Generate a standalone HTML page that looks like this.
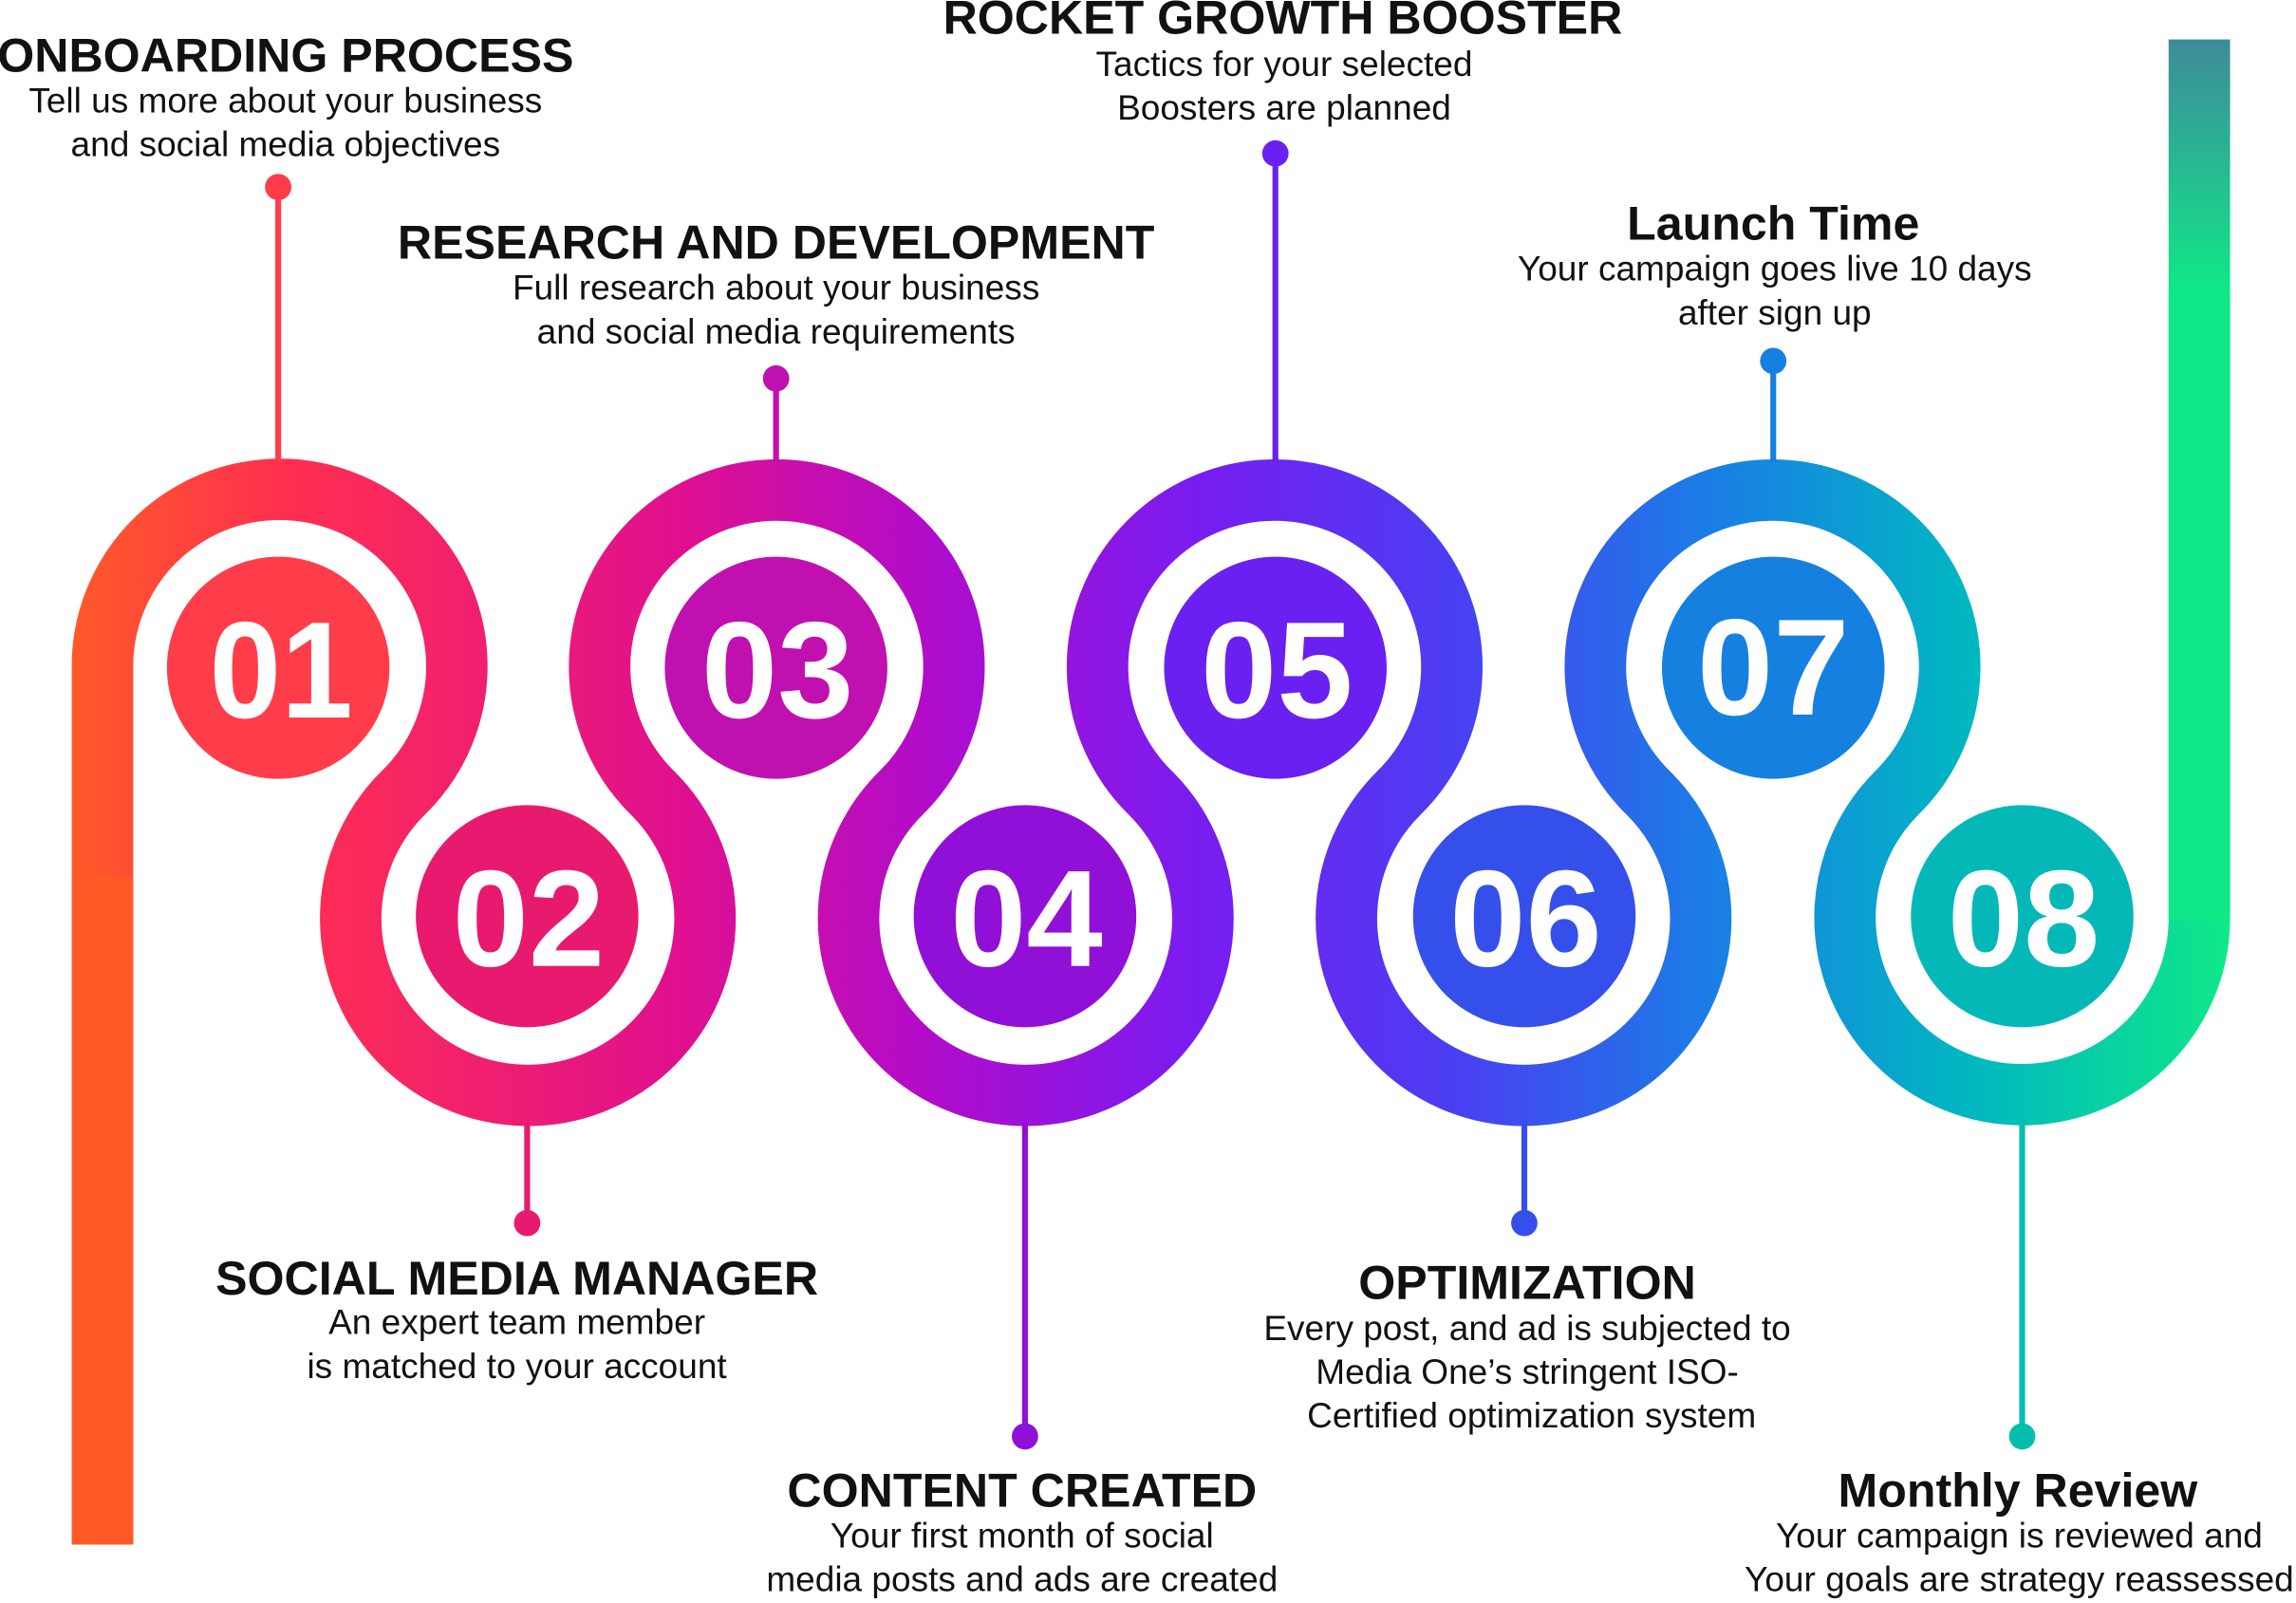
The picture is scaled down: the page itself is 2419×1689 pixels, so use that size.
<!DOCTYPE html>
<html><head><meta charset="utf-8"><style>
html,body{margin:0;padding:0;background:#fff;}
svg{display:block;}
text{font-family:"Liberation Sans",sans-serif;fill:#111;}
.t{font-weight:bold;font-size:32.5px;text-anchor:middle;}
.d{font-size:24px;text-anchor:middle;}
.n{font-weight:bold;font-size:94px;fill:#fff;text-anchor:middle;}
</style></head><body>
<svg width="2419" height="1689" viewBox="0 0 1568 1097" preserveAspectRatio="none" xmlns="http://www.w3.org/2000/svg">
<defs>
<linearGradient id="g" gradientUnits="userSpaceOnUse" x1="48" y1="0" x2="1524" y2="0">
<stop offset="0" stop-color="#ff5a28"/>
<stop offset="0.1" stop-color="#ff2f50"/>
<stop offset="0.28" stop-color="#e0108e"/>
<stop offset="0.4" stop-color="#b00ccc"/>
<stop offset="0.52" stop-color="#7a1cf0"/>
<stop offset="0.64" stop-color="#4a3ef2"/>
<stop offset="0.76" stop-color="#1a7ee6"/>
<stop offset="0.88" stop-color="#00b8c0"/>
<stop offset="1" stop-color="#10e888"/>
</linearGradient>
<linearGradient id="gv" gradientUnits="userSpaceOnUse" x1="0" y1="27" x2="0" y2="200">
<stop offset="0" stop-color="#3f8a9a"/>
<stop offset="1" stop-color="#10e888"/>
</linearGradient>
</defs>
<path d="M70 1057 L70 457 A121 121 0 1 1 275.5 542.5 A121 121 0 1 0 445.5 542.5 A121 121 0 1 1 615.5 542.5 A121 121 0 1 0 785.5 542.5 A121 121 0 1 1 955.5 542.5 A121 121 0 1 0 1125.5 542.5 A121 121 0 1 1 1295.5 542.5 A121 121 0 1 0 1502 627"
 fill="none" stroke="url(#g)" stroke-width="42"/>
<rect x="1481" y="27" width="42" height="600" fill="url(#gv)"/>
<rect x="1481" y="200" width="42" height="430" fill="#10e888"/>
<rect x="49" y="600" width="42" height="457" fill="#ff5a28"/>
<g stroke-width="4">
<line x1="190" y1="128" x2="190" y2="316" stroke="#ff3d4a"/><circle cx="190" cy="128" r="9" fill="#ff3d4a"/>
<line x1="530" y1="259" x2="530" y2="316" stroke="#c010b0"/><circle cx="530" cy="259" r="9" fill="#c010b0"/>
<line x1="871" y1="105" x2="871" y2="316" stroke="#6a20f0"/><circle cx="871" cy="105" r="9" fill="#6a20f0"/>
<line x1="1211" y1="247" x2="1211" y2="316" stroke="#1580e0"/><circle cx="1211" cy="247" r="9" fill="#1580e0"/>
<line x1="360" y1="768" x2="360" y2="837" stroke="#e81a70"/><circle cx="360" cy="837" r="9" fill="#e81a70"/>
<line x1="700" y1="768" x2="700" y2="983" stroke="#9010d8"/><circle cx="700" cy="983" r="9" fill="#9010d8"/>
<line x1="1041" y1="768" x2="1041" y2="837" stroke="#3550ea"/><circle cx="1041" cy="837" r="9" fill="#3550ea"/>
<line x1="1381" y1="768" x2="1381" y2="983" stroke="#05bfae"/><circle cx="1381" cy="983" r="9" fill="#05bfae"/>
</g>
<circle cx="190" cy="457" r="76" fill="#ff3d4a"/>
<circle cx="360" cy="627" r="76" fill="#e81a70"/>
<circle cx="530" cy="457" r="76" fill="#c010b0"/>
<circle cx="700" cy="627" r="76" fill="#9010d8"/>
<circle cx="871" cy="457" r="76" fill="#6a20f0"/>
<circle cx="1041" cy="627" r="76" fill="#3550ea"/>
<circle cx="1211" cy="457" r="76" fill="#1580e0"/>
<circle cx="1381" cy="627" r="76" fill="#05b8b8"/>
<text class="n" x="192" y="491" textLength="98" lengthAdjust="spacingAndGlyphs">01</text>
<text class="n" x="361" y="661" textLength="104" lengthAdjust="spacingAndGlyphs">02</text>
<text class="n" x="531" y="491" textLength="104" lengthAdjust="spacingAndGlyphs">03</text>
<text class="n" x="701" y="661" textLength="104" lengthAdjust="spacingAndGlyphs">04</text>
<text class="n" x="872" y="491" textLength="104" lengthAdjust="spacingAndGlyphs">05</text>
<text class="n" x="1042" y="661" textLength="104" lengthAdjust="spacingAndGlyphs">06</text>
<text class="n" x="1211" y="489" textLength="104" lengthAdjust="spacingAndGlyphs">07</text>
<text class="n" x="1382" y="661" textLength="104" lengthAdjust="spacingAndGlyphs">08</text>

<text class="t" x="195" y="49">ONBOARDING PROCESS</text>
<text class="d" x="195" y="77">Tell us more about your business</text>
<text class="d" x="195" y="107">and social media objectives</text>
<text class="t" x="530" y="177">RESEARCH AND DEVELOPMENT</text>
<text class="d" x="530" y="205">Full research about your business</text>
<text class="d" x="530" y="235">and social media requirements</text>
<text class="t" x="876" y="23">ROCKET GROWTH BOOSTER</text>
<text class="d" x="877" y="52">Tactics for your selected</text>
<text class="d" x="877" y="82">Boosters are planned</text>
<text class="t" x="1211" y="164">Launch Time</text>
<text class="d" x="1212" y="192">Your campaign goes live 10 days</text>
<text class="d" x="1212" y="222">after sign up</text>
<text class="t" x="353" y="886">SOCIAL MEDIA MANAGER</text>
<text class="d" x="353" y="913">An expert team member</text>
<text class="d" x="353" y="943">is matched to your account</text>
<text class="t" x="698" y="1031">CONTENT CREATED</text>
<text class="d" x="698" y="1059">Your first month of social</text>
<text class="d" x="698" y="1089">media posts and ads are created</text>
<text class="t" x="1043" y="889">OPTIMIZATION</text>
<text class="d" x="1043" y="917">Every post, and ad is subjected to</text>
<text class="d" x="1043" y="947">Media One’s stringent ISO-</text>
<text class="d" x="1046" y="977">Certified optimization system</text>
<text class="t" x="1378" y="1031">Monthly Review</text>
<text class="d" x="1379" y="1059">Your campaign is reviewed and</text>
<text class="d" x="1379" y="1089">Your goals are strategy reassessed</text>
</svg>
</body></html>
